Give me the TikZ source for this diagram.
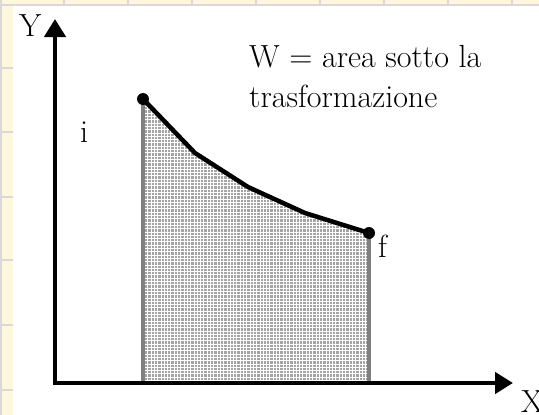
\documentclass[tikz,border=0pt]{standalone}
\usetikzlibrary{arrows.meta}
\definecolor{cream}{HTML}{FEF7DE}
\definecolor{gridgray}{HTML}{D9D9D9}
\definecolor{shadegray}{HTML}{A4A4A4}
\definecolor{edgegray}{HTML}{808080}
\begin{document}
\begin{tikzpicture}[x=1pt,y=-1pt,
  axis/.style={line width=4.5pt, line join=miter,
    {Triangle[length=18pt,width=21pt]}-{Triangle[length=18pt,width=21pt]}},
  curve/.style={line width=4.5pt, line join=round},
  dot/.style={circle, fill=black, inner sep=0pt, minimum size=12pt},
  lbl/.style={font=\fontsize{32}{40}\selectfont, inner sep=0pt},
  gline/.style={gridgray, line width=2pt}]
\useasboundingbox (0,0) rectangle (539,415);
% background slide grid
\fill[cream] (0,0) rectangle (539,415);
\draw[gline] (1,0) -- (1,415);
\foreach \x in {64,128,...,512} \draw[gline] (\x,0) -- (\x,6);
\draw[gline] (0,5) -- (539,5);
\foreach \y in {68,132,197,260,325,390} \draw[gline] (0,\y) -- (13,\y);
\fill[white] (13,6) rectangle (539,415);
% points
\coordinate (pi) at (143,99);
\coordinate (p1) at (195,153);
\coordinate (p2) at (248,187);
\coordinate (p3) at (305,213);
\coordinate (pf) at (369,233);
\coordinate (bi) at (143,383);
\coordinate (bf) at (369,383);
\coordinate (O) at (55,383);
\coordinate (ytip) at (55,19);
\coordinate (xtip) at (513,383);
% shaded area
\begin{scope}
  \clip (pi) -- (p1) -- (p2) -- (p3) -- (pf) -- (bf) -- (bi) -- cycle;
  \fill[shadegray] (140,90) rectangle (372,385);
  \foreach \k in {0,...,70} \draw[white, line width=0.9pt] (144.5+\k*3.3,90) -- ++(0,300);
  \foreach \k in {0,...,90} \draw[white, line width=0.9pt] (140,100+\k*3.3) -- ++(235,0);
\end{scope}
\draw[edgegray, line width=3.5pt] (pi) -- (bi);
\draw[edgegray, line width=3.5pt] (pf) -- (bf);
% axes
\draw[axis] (ytip) -- (O) -- (xtip);
% transformation
\draw[curve] (pi) -- (p1) -- (p2) -- (p3) -- (pf);
\node[dot] (di) at (pi) {};
\node[dot] (df) at (pf) {};
% labels
\node[lbl, anchor=base west] (Ylab) at (19,37) {Y};
\node[lbl, anchor=base west] (Xlab) at (521,412) {X};
\node[lbl, anchor=base west] (ilab) at (80,142) {i};
\node[lbl, anchor=base west] (flab) at (378,257) {f};
\node[lbl, anchor=base west] (W1) at (249,67) {W = area sotto la};
\node[lbl, anchor=base west] (W2) at (249,107) {trasformazione};
\end{tikzpicture}
\end{document}
